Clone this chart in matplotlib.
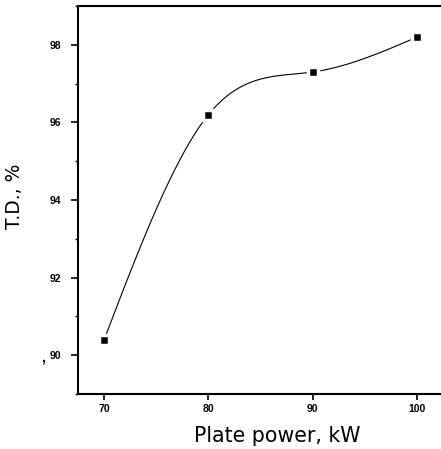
'''
T.D. versus plate power, smooth spline through measured points
'''

import numpy as np
import matplotlib
matplotlib.use('Agg')
import matplotlib.pyplot as plt
from matplotlib.ticker import MultipleLocator

plt.rcParams['font.family'] = ['Liberation Sans', 'DejaVu Sans']

power = [70, 80, 90, 100]
td = [90.4, 96.2, 97.3, 98.2]


def natural_spline(x, y, xs):
    # plain natural cubic spline, no scipy here
    x = np.asarray(x, float)
    y = np.asarray(y, float)
    n = len(x)
    h = np.diff(x)
    A = np.zeros((n, n))
    b = np.zeros(n)
    A[0, 0] = 1
    A[-1, -1] = 1
    for i in range(1, n - 1):
        A[i, i - 1] = h[i - 1]
        A[i, i] = 2 * (h[i - 1] + h[i])
        A[i, i + 1] = h[i]
        b[i] = 6 * ((y[i + 1] - y[i]) / h[i] - (y[i] - y[i - 1]) / h[i - 1])
    m = np.linalg.solve(A, b)
    out = np.empty_like(xs)
    for k, xv in enumerate(xs):
        i = min(max(np.searchsorted(x, xv) - 1, 0), n - 2)
        t = xv - x[i]
        hi = h[i]
        a = y[i]
        bb = (y[i + 1] - y[i]) / hi - hi * (2 * m[i] + m[i + 1]) / 6
        c = m[i] / 2
        d = (m[i + 1] - m[i]) / (6 * hi)
        out[k] = a + bb * t + c * t ** 2 + d * t ** 3
    return out


fig = plt.figure(figsize=(4.41, 4.49), dpi=100)
ax = fig.add_axes([0.177, 0.1225, 0.823, 0.864])

xs = np.linspace(power[0], power[-1], 300)
ax.plot(xs, natural_spline(power, td, xs), color='black', lw=0.8)
ax.plot(power, td, 's', color='black', ms=7, mec='white', mew=2.5)

ax.set_xlim(67.5, 102.3)
ax.set_ylim(89, 99)
ax.set_xticks(power)
ax.set_yticks([90, 92, 94, 96, 98])
ax.yaxis.set_minor_locator(MultipleLocator(1))

ax.tick_params(axis='x', which='major', direction='out', length=4.5,
               width=1.2, labelsize=7.5, pad=3)
ax.tick_params(axis='y', which='major', direction='out', length=5,
               width=1.2, labelsize=7.5, pad=7)
ax.tick_params(which='minor', direction='out', length=2.5, width=1)
for lab in ax.get_xticklabels() + ax.get_yticklabels():
    lab.set_fontweight('bold')

ax.spines['right'].set_visible(False)
for s in ['left', 'bottom', 'top']:
    ax.spines[s].set_linewidth(1.5)

ax.set_xlabel('Plate power, kW', fontsize=14.8, family='DejaVu Sans')
ax.set_ylabel('T.D., %', fontsize=13.5, family='DejaVu Sans')
ax.xaxis.set_label_coords(0.548, -0.082)
ax.yaxis.set_label_coords(-0.148, 0.51)

# small speck left of the 90 label in the original
fig.text(0.093, 0.194, ',', fontsize=10, fontweight='bold')

fig.savefig('out.png', dpi=100)
